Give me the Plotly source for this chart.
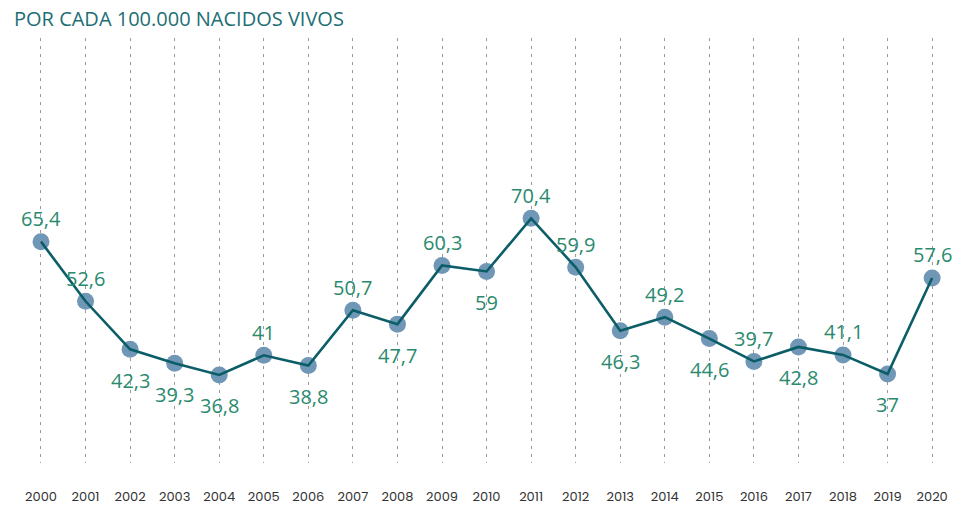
import plotly.graph_objects as go

years = list(range(2000, 2021))
values = [65.4, 52.6, 42.3, 39.3, 36.8, 41, 38.8, 50.7, 47.7, 60.3, 59, 70.4, 59.9, 46.3, 49.2, 44.6, 39.7, 42.8, 41.1, 37, 57.6]
labels = ["65,4", "52,6", "42,3", "39,3", "36,8", "41", "38,8", "50,7", "47,7", "60,3", "59", "70,4", "59,9", "46,3", "49,2", "44,6", "39,7", "42,8", "41,1", "37", "57,6"]
above = [True, True, False, False, False, True, False, True, False, True, False, True,
         True, False, True, False, True, False, True, False, True]

fig = go.Figure()
# markers first, line on top (as in reference)
fig.add_trace(go.Scatter(
    x=years, y=values, mode="markers",
    marker=dict(size=17, color="#7097b6", line=dict(width=0)),
    cliponaxis=False, hoverinfo="skip",
))
fig.add_trace(go.Scatter(
    x=years, y=values, mode="lines",
    line=dict(color="#0b5e68", width=2.6),
    cliponaxis=False, hoverinfo="skip",
))

for yr, v, lab, up in zip(years, values, labels, above):
    fig.add_annotation(x=yr, y=v, text=lab, showarrow=False,
                       yshift=23 if up else -31,
                       font=dict(family="Open Sans, sans-serif", size=20, color="#2a8a6e"))

fig.update_layout(
    width=966, height=506,
    margin=dict(l=0, r=0, t=38, b=41),
    paper_bgcolor="white", plot_bgcolor="white",
    showlegend=False,
    title=dict(text="POR CADA 100.000 NACIDOS VIVOS", x=14/966, xanchor="left",
               xref="container", yref="container", y=1-19/506, yanchor="middle",
               font=dict(family="Open Sans, sans-serif", size=20, color="#1d6e74")),
    xaxis=dict(range=[1999.08, 2020.76], tickmode="array", tickvals=years,
               ticktext=[str(y) for y in years],
               showgrid=True, gridcolor="#9a9a9a", griddash="3px,5px", gridwidth=1,
               zeroline=False, showline=False, ticks="",
               ticklabelstandoff=24,
               tickfont=dict(family="Poppins, Lato, sans-serif", size=13, color="#333333")),
    yaxis=dict(range=[17.9, 109.1], showgrid=False, zeroline=False, showticklabels=False, visible=False),
)

fig.write_html("out.html", config={"displayModeBar": False},
               post_script="document.body.style.margin='0';")
